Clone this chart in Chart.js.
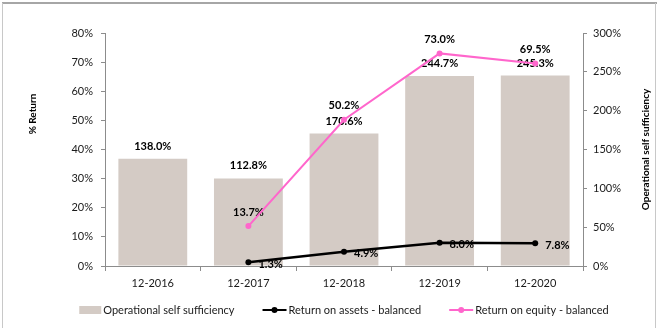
<!DOCTYPE html>
<html>
<head>
<meta charset="utf-8">
<script src="https://cdn.jsdelivr.net/npm/chart.js@4/dist/chart.umd.min.js"></script>
<style>
  html, body { margin: 0; padding: 0; background: #fff; }
</style>
</head>
<body>
<canvas id="chart" width="657" height="328"></canvas>
<script>
'use strict';

const periods = ['12-2016', '12-2017', '12-2018', '12-2019', '12-2020'];
const selfSufficiency = [138.0, 112.8, 170.6, 244.7, 245.3];
const returnOnAssets = [null, 1.3, 4.9, 8.0, 7.8];
const returnOnEquity = [null, 13.7, 50.2, 73.0, 69.5];

const returnAxis = {min: 0, max: 80, step: 10};
const sufficiencyAxis = {min: 0, max: 300, step: 50};

const fontFamily = 'Lato, "Open Sans", sans-serif';
const axisGray = '#8c8c8c';
const barColor = '#d4cbc5';
const roaColor = '#000000';
const roeColor = '#ff66cc';

Chart.defaults.font.family = fontFamily;
Chart.defaults.font.size = 11;
Chart.defaults.color = '#1a1a1a';

// gray frame round the whole chart
const frame = {
  id: 'frame',
  beforeDraw(chart) {
    const ctx = chart.ctx;
    ctx.save();
    ctx.fillStyle = '#fff';
    ctx.fillRect(0, 0, chart.width, chart.height);
    ctx.strokeStyle = '#a6a6a6';
    ctx.lineWidth = 2;
    ctx.beginPath();
    ctx.moveTo(2, 3);
    ctx.lineTo(chart.width, 3);
    ctx.stroke();
    ctx.strokeStyle = '#c8c8c8';
    ctx.lineWidth = 1;
    ctx.beginPath();
    ctx.moveTo(2.5, 3);
    ctx.lineTo(2.5, chart.height);
    ctx.moveTo(chart.width - 1.5, 3);
    ctx.lineTo(chart.width - 1.5, chart.height);
    ctx.stroke();
    ctx.restore();
  }
};

// value labels: drawn after the bars, before the lines go on top
const valueLabels = {
  id: 'valueLabels',
  afterDatasetDraw(chart, args) {
    if (args.index !== 0) return;
    const ctx = chart.ctx;
    ctx.save();
    ctx.font = 'bold 11px ' + fontFamily;
    ctx.fillStyle = '#000';
    ctx.textBaseline = 'middle';
    chart.data.datasets.forEach((ds, i) => {
      const meta = chart.getDatasetMeta(i);
      meta.data.forEach((el, j) => {
        const v = ds.data[j];
        if (v === null || v === undefined) return;
        const text = v.toFixed(1) + '%';
        if (ds.labelPlace === 'right') {
          ctx.textAlign = 'left';
          ctx.fillText(text, el.x + 10, el.y + 2);
        } else {
          ctx.textAlign = 'center';
          ctx.fillText(text, el.x, el.y - ds.labelGap);
        }
      });
    });
    ctx.restore();
  }
};

// axis titles, both reading bottom to top
const axisTitles = {
  id: 'axisTitles',
  afterDraw(chart) {
    const ctx = chart.ctx;
    const area = chart.chartArea;
    ctx.save();
    ctx.font = 'bold 10px ' + fontFamily;
    ctx.fillStyle = '#000';
    ctx.textAlign = 'center';
    ctx.textBaseline = 'middle';

    ctx.save();
    ctx.translate(33, area.top + 81);
    ctx.rotate(-Math.PI / 2);
    ctx.fillText('% Return', 0, 0);
    ctx.restore();

    ctx.save();
    ctx.translate(646, (area.top + area.bottom) / 2);
    ctx.rotate(-Math.PI / 2);
    ctx.fillText('Operational self sufficiency', 0, 0);
    ctx.restore();

    ctx.restore();
  }
};

// legend row under the axis, centred on the plot area
const bottomLegend = {
  id: 'bottomLegend',
  afterDraw(chart) {
    const ctx = chart.ctx;
    const area = chart.chartArea;
    const y = 310;
    const symbolGap = 2;
    const itemGap = 28;
    ctx.save();
    ctx.font = '11px ' + fontFamily;
    ctx.textBaseline = 'middle';
    ctx.textAlign = 'left';

    const items = chart.data.datasets.map(ds => ({
      text: ds.label,
      type: ds.type,
      color: ds.borderColor,
      fill: ds.backgroundColor,
      symbol: ds.type === 'bar' ? 22 : 24,
    }));
    let total = 0;
    items.forEach((it, i) => {
      it.width = it.symbol + symbolGap + ctx.measureText(it.text).width;
      total += it.width + (i ? itemGap : 0);
    });

    let x = (area.left + area.right) / 2 - total / 2;
    items.forEach(it => {
      if (it.type === 'bar') {
        ctx.fillStyle = it.fill;
        ctx.fillRect(x, y - 4, it.symbol, 8);
      } else {
        ctx.strokeStyle = it.color;
        ctx.lineWidth = 2;
        ctx.beginPath();
        ctx.moveTo(x, y);
        ctx.lineTo(x + it.symbol, y);
        ctx.stroke();
        ctx.fillStyle = it.color;
        ctx.beginPath();
        ctx.arc(x + it.symbol / 2, y, 3, 0, Math.PI * 2);
        ctx.fill();
      }
      ctx.fillStyle = '#1a1a1a';
      ctx.fillText(it.text, x + it.symbol + symbolGap, y);
      x += it.width + itemGap;
    });
    ctx.restore();
  }
};

new Chart(document.getElementById('chart'), {
  type: 'bar',
  data: {
    labels: periods,
    datasets: [
      {
        type: 'bar',
        label: 'Operational self sufficiency',
        data: selfSufficiency,
        backgroundColor: barColor,
        borderColor: barColor,
        borderWidth: 0,
        barPercentage: 0.72,
        categoryPercentage: 1,
        yAxisID: 'yRight',
        order: 10,
        labelPlace: 'above',
        labelGap: 12.5,
      },
      {
        type: 'line',
        label: 'Return on assets - balanced',
        data: returnOnAssets,
        borderColor: roaColor,
        backgroundColor: roaColor,
        borderWidth: 2.5,
        pointRadius: 3,
        pointBorderWidth: 0,
        tension: 0,
        fill: false,
        yAxisID: 'yLeft',
        order: 2,
        labelPlace: 'right',
      },
      {
        type: 'line',
        label: 'Return on equity - balanced',
        data: returnOnEquity,
        borderColor: roeColor,
        backgroundColor: roeColor,
        borderWidth: 2,
        pointRadius: 3,
        pointBorderWidth: 0,
        tension: 0,
        fill: false,
        yAxisID: 'yLeft',
        order: 1,
        labelPlace: 'above',
        labelGap: 14,
      },
    ],
  },
  options: {
    responsive: false,
    animation: false,
    devicePixelRatio: 1,
    layout: {padding: {top: 33, left: 0, right: 0, bottom: 0}},
    plugins: {
      legend: {display: false},
      tooltip: {enabled: false},
    },
    scales: {
      x: {
        offset: true,
        grid: {
          display: true,
          drawOnChartArea: false,
          drawTicks: true,
          tickLength: 5,
          offset: true,
          color: axisGray,
        },
        border: {color: axisGray, width: 1},
        ticks: {padding: 6, color: '#1a1a1a'},
        afterFit(scale) { scale.height = 62; },
      },
      yLeft: {
        position: 'left',
        min: returnAxis.min,
        max: returnAxis.max,
        grid: {drawOnChartArea: false, tickLength: 4, color: axisGray},
        border: {color: axisGray, width: 1},
        ticks: {
          stepSize: returnAxis.step,
          padding: 8,
          color: '#1a1a1a',
          callback: v => v + '%',
        },
        afterFit(scale) { scale.width = 105; },
      },
      yRight: {
        position: 'right',
        min: sufficiencyAxis.min,
        max: sufficiencyAxis.max,
        grid: {drawOnChartArea: false, tickLength: 4, color: axisGray},
        border: {color: axisGray, width: 1},
        ticks: {
          stepSize: sufficiencyAxis.step,
          padding: 6,
          color: '#1a1a1a',
          callback: v => v + '%',
        },
        afterFit(scale) { scale.width = 74; },
      },
    },
  },
  plugins: [frame, valueLabels, axisTitles, bottomLegend],
});
</script>
</body>
</html>
